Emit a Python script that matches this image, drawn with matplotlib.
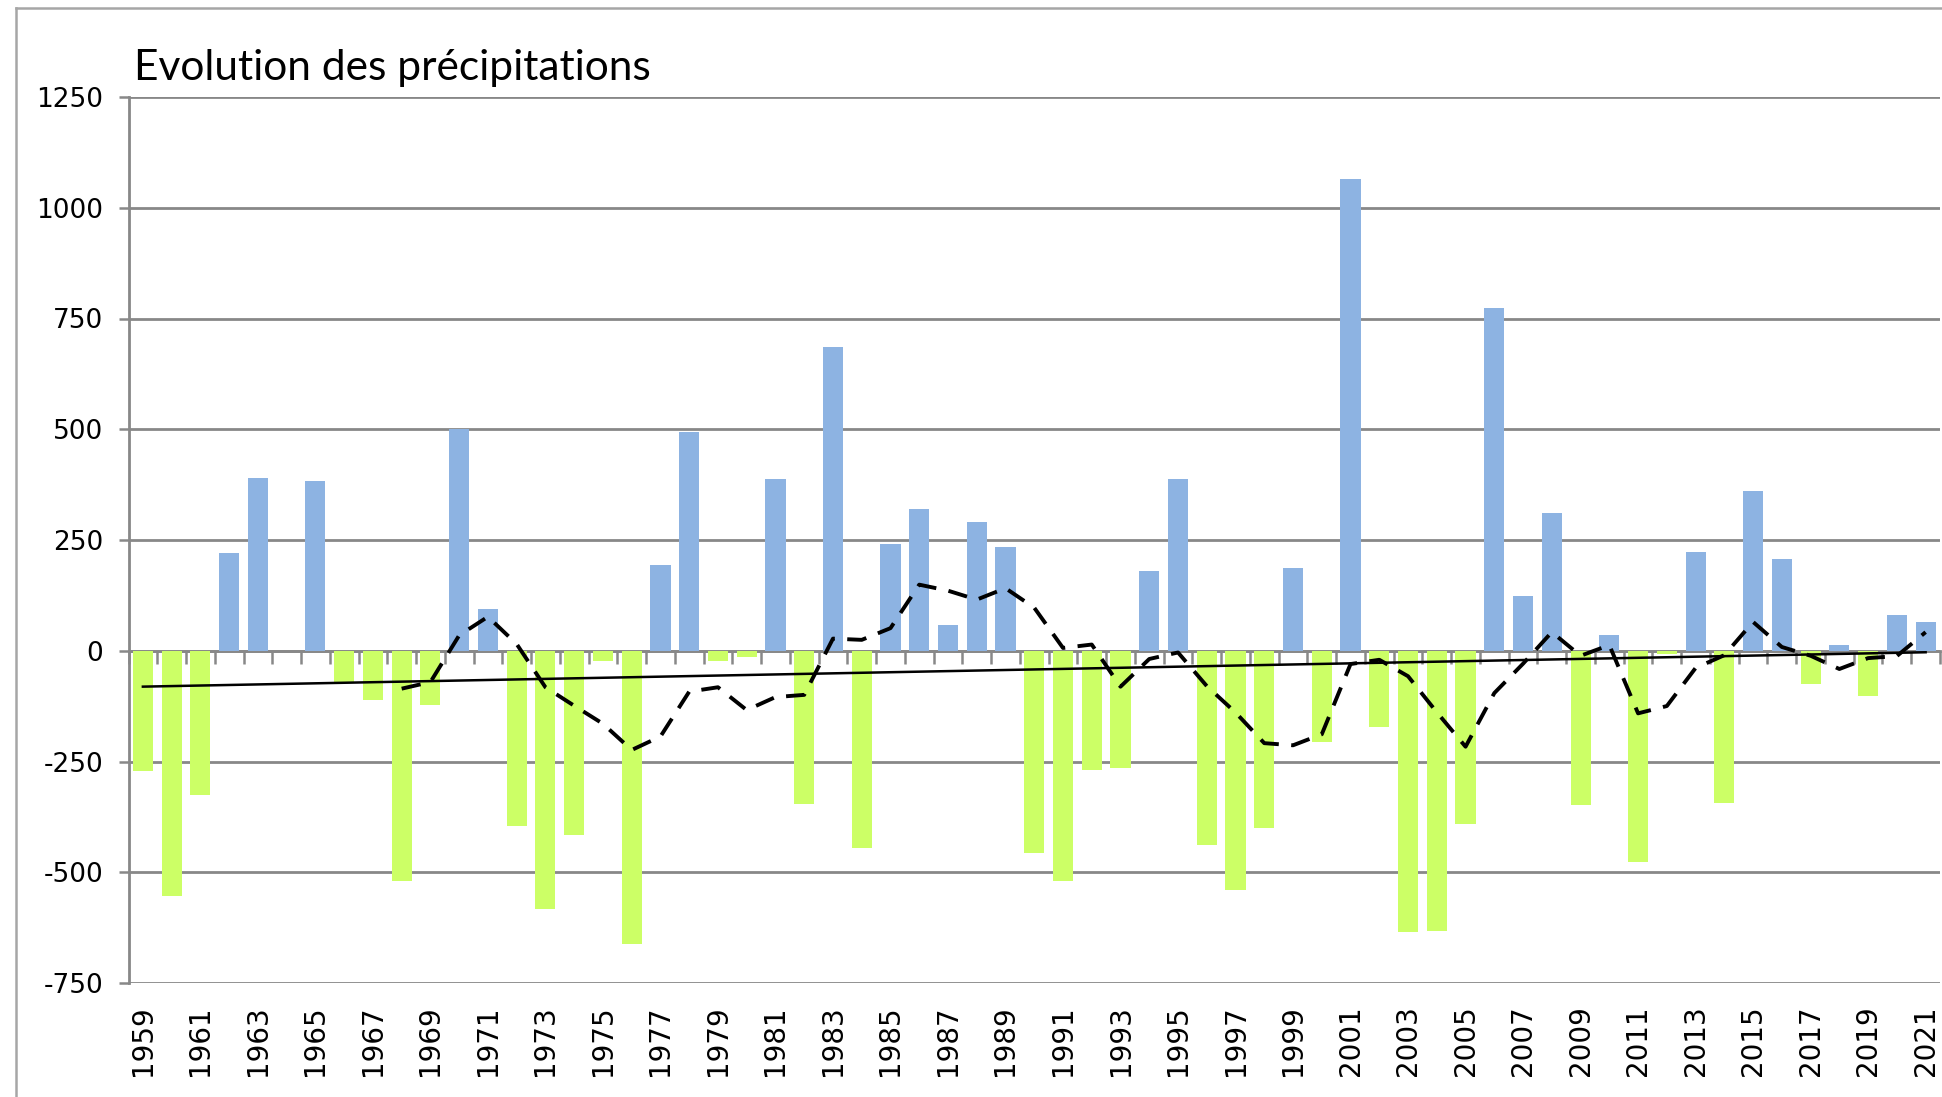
import numpy as np
import matplotlib.pyplot as plt
from matplotlib.lines import Line2D

years = list(range(1959, 2022))
ecarts = [-271, -554, -326, 221, 391, 0, 384, -70, -111, -520,
          -122, 500, 95, -396, -584, -417, -23, -662, 193, 493,
          -23, -15, 388, -346, 686, -445, 241, 320, 57, 291,
          235, -456, -520, -269, -265, 180, 388, -438, -540, -401,
          187, -207, 1065, -173, -636, -633, -390, 773, 123, 312,
          -348, 35, -476, -8, 223, -344, 360, 208, -75, 13,
          -102, 81, 64]
yticks = [-750, -500, -250, 0, 250, 500, 750, 1000, 1250]
titre = "Evolution des précipitations"

vals = np.array(ecarts, dtype=float)
x = np.arange(len(years))

# moyenne mobile sur 10 ans + tendance lineaire (comme dans Excel)
window = 10
mm = np.convolve(vals, np.ones(window) / window, mode='valid')
x_mm = x[window - 1:]
coef = np.polyfit(x, vals, 1)
trend = np.polyval(coef, x)

fig = plt.figure(figsize=(19.42, 10.97), dpi=100)
ax = fig.add_axes([128.5 / 1942, 114 / 1097, (1940 - 128.5) / 1942, (983 - 97) / 1097])

grid_col = '#888888'
colors = ['#8DB3E2' if v >= 0 else '#CCFF66' for v in vals]
ax.bar(x, vals, width=0.7, color=colors, zorder=2)
ax.plot(x_mm, mm, color='black', lw=2.8, ls=(0, (5, 3.2)), zorder=4)
ax.plot(x, trend, color='black', lw=1.8, zorder=3)

ymin, ymax = -750, 1250
ax.set_ylim(ymin, ymax)
ax.set_xlim(-0.5, len(years) - 0.5)
ax.set_yticks(yticks)
ax.set_yticklabels([str(t) for t in yticks], fontsize=19, family='DejaVu Sans')
ax.yaxis.grid(True, color=grid_col, lw=2.0, zorder=0)
ax.set_axisbelow(True)
ax.tick_params(axis='y', direction='out', length=7, width=1.8, color=grid_col, pad=11)

ax.set_xticks(x[::2])
ax.set_xticklabels([str(y) for y in years[::2]], rotation=90, fontsize=20, family='DejaVu Sans')
ax.tick_params(axis='x', length=0, pad=16)

for s in ['top', 'right', 'bottom']:
    ax.spines[s].set_visible(False)
ax.spines['left'].set_color(grid_col)
ax.spines['left'].set_linewidth(2.0)

# axe des categories a y = 0 avec graduations entre les annees
loc0 = (0 - ymin) / (ymax - ymin)
sec = ax.secondary_xaxis(loc0)
sec.set_xticks(np.arange(-0.5, len(years) + 0.5, 1))
sec.set_xticklabels([])
sec.tick_params(direction='out', length=9, width=1.8, color=grid_col)
sec.spines['bottom'].set_color(grid_col)
sec.spines['bottom'].set_linewidth(2.0)

fig.text(134 / 1942, 1 - 80 / 1097, titre, fontsize=30.6, family='Lato', va='baseline', ha='left')

# cadre exterieur
fig.add_artist(Line2D([15.5 / 1942, 15.5 / 1942], [0, 1 - 8 / 1097], color='#A6A6A6', lw=1.8))
fig.add_artist(Line2D([15.5 / 1942, 1], [1 - 8 / 1097, 1 - 8 / 1097], color='#A6A6A6', lw=1.8))

fig.savefig('out.png', dpi=100)
